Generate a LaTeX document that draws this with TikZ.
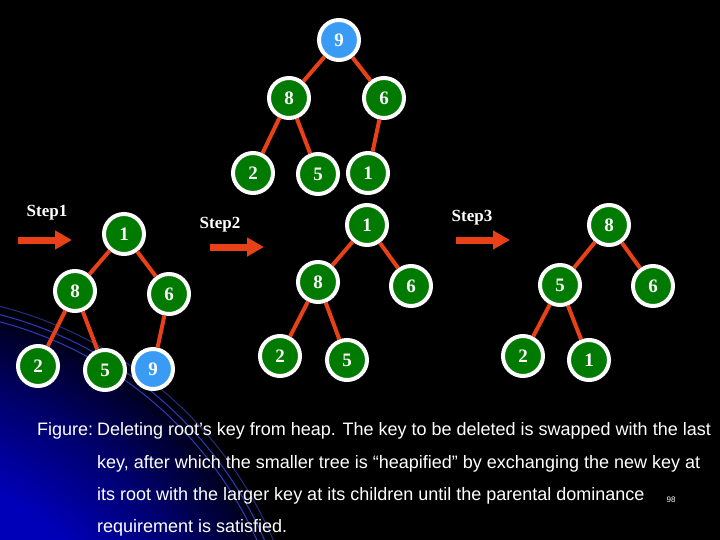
\documentclass[tikz,border=0pt]{standalone}
\usepackage{fontspec}
\setmainfont{Liberation Serif}
\newfontfamily\capfont{Liberation Sans}
\usetikzlibrary{arrows.meta}
\definecolor{ngreen}{RGB}{0,122,0}
\definecolor{nblue}{RGB}{58,155,245}
\definecolor{ered}{RGB}{232,65,24}
\definecolor{bgblue}{RGB}{0,0,185}
\definecolor{arcblue}{RGB}{45,60,180}
\pgfdeclareradialshading{bluefade}{\pgfpoint{0bp}{0bp}}{color(0bp)=(bgblue); color(13.5bp)=(bgblue); color(19bp)=(bgblue!58!black); color(22.5bp)=(bgblue!25!black); color(24.3bp)=(black); color(50bp)=(black)}
\begin{document}
\begin{tikzpicture}[x=1pt,y=-1pt,
 hnode/.style={circle, draw=white, line width=4pt, fill=ngreen, minimum size=40pt, inner sep=0pt, text=white, font=\bfseries\fontsize{19}{19}\selectfont},
 hblue/.style={hnode, fill=nblue},
 hedge/.style={draw=ered, line width=4pt},
 steplabel/.style={text=white, inner sep=0pt, font=\bfseries\fontsize{17}{17}\selectfont},
 steparrow/.style={draw=ered, line width=7pt, -{Triangle[length=17pt,width=18pt]}},
 captext/.style={text=white, anchor=base west, inner sep=0pt, font=\capfont\fontsize{18}{18}\selectfont},
 bgarc/.style={draw=arcblue, line width=1pt}]
\useasboundingbox (0,0) rectangle (720,540);
\fill[black] (0,0) rectangle (720,540);
\begin{scope}
\clip (0,0) rectangle (720,540);
\shade[shading=bluefade] (-100,700) circle[radius=420];
\draw[bgarc] (-100,700) circle[radius=391];
\draw[bgarc] (-100,700) circle[radius=398];
\draw[bgarc, draw=arcblue!75!black] (-100,700) circle[radius=406];
\end{scope}

% top tree
\node[hblue] (t9) at (339,40) {9};
\node[hnode] (t8) at (289,98) {8};
\node[hnode] (t6) at (384,98) {6};
\node[hnode] (t2) at (253,173) {2};
\node[hnode] (t5) at (318,174) {5};
\node[hnode] (t1) at (368,173) {1};
\draw[hedge] (t9) -- (t8);
\draw[hedge] (t9) -- (t6);
\draw[hedge] (t8) -- (t2);
\draw[hedge] (t8) -- (t5);
\draw[hedge] (t6) -- (t1);

% step 1
\node[steplabel] (s1) at (47,213) {Step1};
\coordinate (a1s) at (18,240);
\coordinate (a1e) at (72,240);
\draw[steparrow] (a1s) -- (a1e);
\node[hnode] (a1) at (124,234) {1};
\node[hnode] (a8) at (75,291) {8};
\node[hnode] (a6) at (169,294) {6};
\node[hnode] (a2) at (38,366) {2};
\node[hnode] (a5) at (105,370) {5};
\node[hblue] (a9) at (153,369) {9};
\draw[hedge] (a1) -- (a8);
\draw[hedge] (a1) -- (a6);
\draw[hedge] (a8) -- (a2);
\draw[hedge] (a8) -- (a5);
\draw[hedge] (a6) -- (a9);

% step 2
\node[steplabel] (s2) at (220,225) {Step2};
\coordinate (b1s) at (210,247);
\coordinate (b1e) at (264,247);
\draw[steparrow] (b1s) -- (b1e);
\node[hnode] (b1) at (367,225) {1};
\node[hnode] (b8) at (318,282) {8};
\node[hnode] (b6) at (411,286) {6};
\node[hnode] (b2) at (280,356) {2};
\node[hnode] (b5) at (347,360) {5};
\draw[hedge] (b1) -- (b8);
\draw[hedge] (b1) -- (b6);
\draw[hedge] (b8) -- (b2);
\draw[hedge] (b8) -- (b5);

% step 3
\node[steplabel] (s3) at (472,218) {Step3};
\coordinate (c1s) at (456,240);
\coordinate (c1e) at (510,240);
\draw[steparrow] (c1s) -- (c1e);
\node[hnode] (c8) at (609,225) {8};
\node[hnode] (c5) at (560,285) {5};
\node[hnode] (c6) at (653,286) {6};
\node[hnode] (c2) at (523,356) {2};
\node[hnode] (c1) at (589,360) {1};
\draw[hedge] (c8) -- (c5);
\draw[hedge] (c8) -- (c6);
\draw[hedge] (c5) -- (c2);
\draw[hedge] (c5) -- (c1);

% caption
\node[captext] (f0) at (37,435) {Figure:};
\node[captext] (f1) at (97,435) {Deleting root’s key from heap. The key to be deleted is swapped with the last};
\node[captext] (f2) at (97,468) {key, after which the smaller tree is “heapified” by exchanging the new key at};
\node[captext] (f3) at (97,500) {its root with the larger key at its children until the parental dominance};
\node[captext] (f4) at (97,532) {requirement is satisfied.};
\node[text=white, inner sep=0pt, font=\capfont\fontsize{8}{8}\selectfont] (pg) at (671,500) {98};
\end{tikzpicture}
\end{document}
